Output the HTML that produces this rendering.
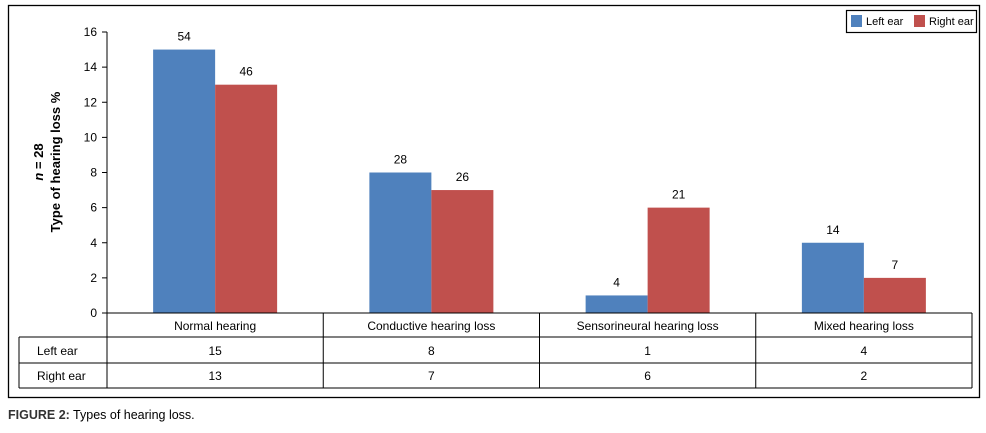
<!DOCTYPE html>
<html><head><meta charset="utf-8"><style>
body{margin:0;background:#fff;}
svg{display:block;font-family:"Liberation Sans",sans-serif;}
</style></head><body>
<svg id="c" width="986" height="433" xmlns="http://www.w3.org/2000/svg"></svg>
<script>
const categories=["Normal hearing","Conductive hearing loss","Sensorineural hearing loss","Mixed hearing loss"];
const leftEar=[15,8,1,4];
const rightEar=[13,7,6,2];
const leftLabels=["54","28","4","14"];
const rightLabels=["46","26","21","7"];
const yTicks=[0,2,4,6,8,10,12,14,16];
const svg=document.getElementById('c');
const NS="http://www.w3.org/2000/svg";
function mk(t,a,txt){const e=document.createElementNS(NS,t);for(const k in a)e.setAttribute(k,a[k]);if(txt!==undefined)e.textContent=txt;svg.appendChild(e);return e;}
const x0=107,x1=972,y0=313,yTop=32,yMax=16;
const y=v=>y0-(v/yMax)*(y0-yTop);
const colW=(x1-x0)/categories.length;
const cx=i=>x0+colW*(i+0.5);
const barW=62;
let e=mk('rect',{x:8.5,y:5.5,width:971,height:392,fill:'none',stroke:'#000','stroke-width':1.3});

e=mk('line',{x1:x0,y1:yTop,x2:x0,y2:y0,stroke:'#000'});

yTicks.forEach(t=>{
 let l=mk('line',{x1:x0-5,y1:y(t),x2:x0,y2:y(t),stroke:'#000'});
 
 let tx=mk('text',{x:x0-10,y:y(t)+4,'text-anchor':'end','font-size':12,fill:'#000'},t);
 
});
e=mk('text',{transform:'translate(43,162) rotate(-90)','text-anchor':'middle','font-size':13,'font-weight':'bold'});

e.innerHTML='<tspan x="0" dy="0"><tspan font-style="italic">n</tspan> = 28</tspan><tspan x="0" dy="17">Type of hearing loss %</tspan>';
categories.forEach((c,i)=>{
 let b=mk('rect',{x:cx(i)-barW,y:y(leftEar[i]),width:barW,height:y0-y(leftEar[i]),fill:'#4f81bd'});
 
 b=mk('rect',{x:cx(i),y:y(rightEar[i]),width:barW,height:y0-y(rightEar[i]),fill:'#c0504d'});
 
 let t=mk('text',{x:cx(i)-barW/2,y:y(leftEar[i])-9,'text-anchor':'middle','font-size':12},leftLabels[i]);
 
 t=mk('text',{x:cx(i)+barW/2,y:y(rightEar[i])-9,'text-anchor':'middle','font-size':12},rightLabels[i]);
 
});
const rows=[337,363,388];
e=mk('line',{x1:x0,y1:y0,x2:x1,y2:y0,stroke:'#000'});

rows.forEach(r=>{let l=mk('line',{x1:19,y1:r,x2:x1,y2:r,stroke:'#000'});});
[19].forEach(xx=>{let l=mk('line',{x1:xx,y1:337,x2:xx,y2:388,stroke:'#000'});});
for(let i=0;i<=categories.length;i++){let l=mk('line',{x1:x0+colW*i,y1:y0,x2:x0+colW*i,y2:388,stroke:'#000'});}
categories.forEach((c,i)=>{
 let t=mk('text',{x:cx(i),y:330,'text-anchor':'middle','font-size':12},c);
 
 t=mk('text',{x:cx(i),y:355,'text-anchor':'middle','font-size':12},leftEar[i]);
 
 t=mk('text',{x:cx(i),y:380,'text-anchor':'middle','font-size':12},rightEar[i]);
 
});
e=mk('text',{x:37,y:355,'font-size':12},'Left ear');
e=mk('text',{x:37,y:380,'font-size':12},'Right ear');
e=mk('rect',{x:846.5,y:10.5,width:130,height:22,fill:'#fff',stroke:'#000','stroke-width':1.2});

e=mk('rect',{x:851,y:15,width:11,height:12,fill:'#4f81bd'});
e=mk('text',{x:866,y:25,'font-size':11},'Left ear');
e=mk('rect',{x:914,y:15,width:11,height:12,fill:'#c0504d'});
e=mk('text',{x:929,y:25,'font-size':11},'Right ear');
e=mk('text',{x:8,y:419,'font-size':12.5});

e.innerHTML='<tspan font-weight="bold" fill="#333">FIGURE 2:</tspan> Types of hearing loss.';
</script>
</body></html>
